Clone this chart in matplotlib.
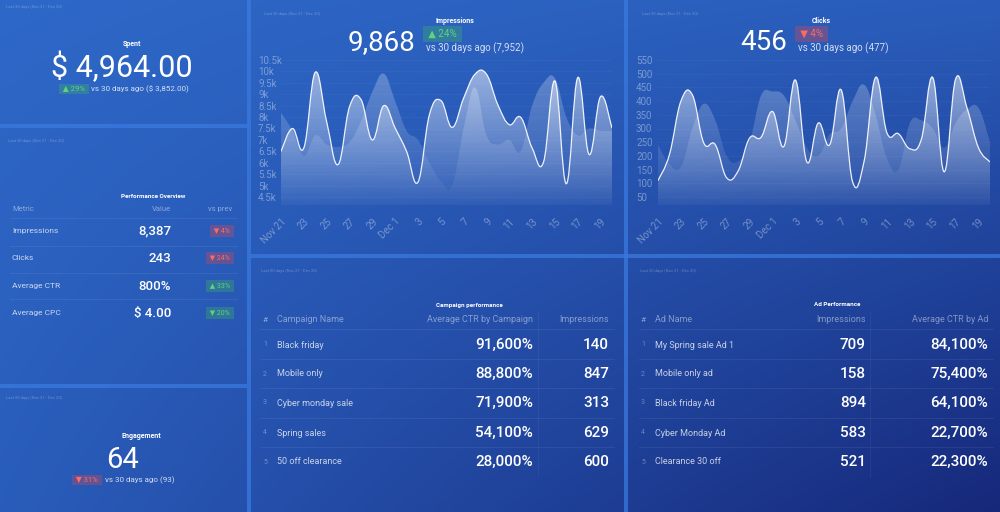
import numpy as np
import matplotlib
matplotlib.use('Agg')
import matplotlib.pyplot as plt
from matplotlib.path import Path
from matplotlib.patches import PathPatch, Rectangle
from matplotlib.lines import Line2D
from matplotlib.ticker import FuncFormatter, FixedLocator

plt.rcParams['font.family'] = ['Roboto', 'DejaVu Sans']

# ---- data ----
date_labels = ['Nov 21', '23', '25', '27', '29', 'Dec 1', '3', '5', '7', '9',
               '11', '13', '15', '17', '19']
impressions = [6500, 7500, 6650, 9960, 7800, 5920, 8450, 8780, 7000, 8500,
               7520, 6500, 5150, 8100, 8730, 7550, 8830, 9880, 9880, 8540,
               7670, 7990, 6650, 6030, 9580, 5080, 9730, 6360, 8900, 7520]
impressions_prev = [8200, 7400, 6300, 7200, 6800, 6700, 6900, 7800, 9100, 9900,
                    8700, 7400, 7000, 6000, 5200, 5000, 7500, 9300, 7200, 6800,
                    7000, 6500, 8500, 9500, 9700, 8000, 7200, 7500, 7400, 7400]
clicks = [110, 205, 400, 423, 247, 241, 120, 145, 265, 268,
          362, 235, 477, 178, 320, 241, 441, 105, 180, 486,
          284, 281, 226, 260, 486, 142, 481, 374, 229, 178]
clicks_prev = [240, 170, 160, 300, 390, 330, 200, 180, 250, 420,
               435, 420, 330, 230, 200, 280, 300, 400, 460, 350,
               190, 150, 320, 330, 300, 230, 320, 370, 375, 250]
impr_ticks = [4500, 5000, 5500, 6000, 6500, 7000, 7500, 8000, 8500, 9000,
              9500, 10000, 10500]
click_ticks = [50, 100, 150, 200, 250, 300, 350, 400, 450, 500, 550]

perf_metrics = ['Impressions', 'Clicks', 'Average CTR', 'Average CPC']
perf_values = ['8,387', '243', '800%', '$ 4.00']
perf_change = ['▼ 4%', '▼ 24%', '▲ 33%', '▼ 20%']
perf_good = [False, False, True, True]

campaign_names = ['Black friday', 'Mobile only', 'Cyber monday sale',
                  'Spring sales', '50 off clearance']
campaign_ctr = [91600, 88800, 71900, 54100, 28000]
campaign_impr = [140, 847, 313, 629, 600]

ad_names = ['My Spring sale Ad 1', 'Mobile only ad', 'Black friday Ad',
            'Cyber Monday Ad', 'Clearance 30 off']
ad_impr = [709, 158, 894, 583, 521]
ad_ctr = [84100, 75400, 64100, 22700, 22300]

W, H = 1000, 512
fig = plt.figure(figsize=(10, 5.12), dpi=100)


def fx(x):
    return x / W


def fy(y):
    return 1 - y / H


def txt(x, y, s, size, color='white', alpha=1.0, ha='left', va='center',
        weight='normal', **kw):
    return fig.text(fx(x), fy(y), s, fontsize=size, color=color, alpha=alpha,
                    ha=ha, va=va, fontweight=weight, **kw)


def badge(x, y, s, good, size, ha='left'):
    col = '#5fd37c' if good else '#ff6b5e'
    bg = (0.25, 0.75, 0.35, 0.30) if good else (0.95, 0.28, 0.28, 0.30)
    fig.text(fx(x), fy(y), ' ' + s + ' ', fontsize=size, color=col, ha=ha,
             va='center',
             bbox=dict(boxstyle='square,pad=0.3', fc=bg, ec='none'))


def hline(x0, x1, y, alpha=0.08):
    fig.add_artist(Line2D([fx(x0), fx(x1)], [fy(y), fy(y)],
                          transform=fig.transFigure, color='white',
                          alpha=alpha, lw=0.6))


def vline(x, y0, y1, alpha=0.06):
    fig.add_artist(Line2D([fx(x), fx(x)], [fy(y0), fy(y1)],
                          transform=fig.transFigure, color='white',
                          alpha=alpha, lw=0.6))


# ---- background gradient ----
bg_ax = fig.add_axes([0, 0, 1, 1], zorder=-10)
gx, gy = np.meshgrid(np.linspace(0, 1, 400), np.linspace(0, 1, 200))
t = 0.35 * (gx + gy) / 2 + 0.65 * gx * gy
c0 = np.array([46, 104, 200]) / 255
c1 = np.array([22, 40, 122]) / 255
img = c0[None, None, :] * (1 - t[..., None]) + c1[None, None, :] * t[..., None]
bg_ax.imshow(img, extent=[0, 1, 0, 1], aspect='auto', origin='upper')
bg_ax.axis('off')

# bright panel separators
sep = '#3a7ae0'
for (x0, y0, x1, y1) in [(0, 124, 247, 128), (0, 384, 247, 388),
                         (247, 0, 251, 512), (624, 0, 628, 512),
                         (251, 254, 1000, 258)]:
    fig.add_artist(Rectangle((fx(x0), fy(y1)), fx(x1 - x0), (y1 - y0) / H,
                             transform=fig.transFigure, color=sep, lw=0,
                             alpha=0.75))

# tiny date headers
for (x, y) in [(6, 7), (8, 141), (6, 398), (264, 14), (642, 14),
               (261, 271), (640, 271)]:
    txt(x, y, 'Last 30 days (Nov 21 - Dec 20)', 3, alpha=0.3)


# ---- smooth area charts ----
def smooth_path(xs, ys, k=0.2):
    pts = np.column_stack([xs, ys]).astype(float)
    n = len(pts)
    verts = [pts[0]]
    codes = [Path.MOVETO]
    for i in range(n - 1):
        p0 = pts[max(i - 1, 0)]
        p1 = pts[i]
        p2 = pts[i + 1]
        p3 = pts[min(i + 2, n - 1)]
        verts += [p1 + (p2 - p0) * k, p2 - (p3 - p1) * k, p2]
        codes += [Path.CURVE4] * 3
    return verts, codes


def area(ax, ys, base, top, a_top, a_bot, z, line=False):
    xs = np.arange(len(ys))
    verts, codes = smooth_path(xs, ys)
    av = verts + [(xs[-1], base), (xs[0], base), (xs[0], ys[0])]
    ac = codes + [Path.LINETO, Path.LINETO, Path.CLOSEPOLY]
    clip = PathPatch(Path(av, ac), transform=ax.transData, fc='none',
                     ec='none')
    ax.add_patch(clip)
    grad = np.ones((200, 1, 4))
    grad[:, 0, 3] = np.linspace(a_bot, a_top, 200)
    im = ax.imshow(grad, extent=[xs[0], xs[-1], base, top], origin='lower',
                   aspect='auto', interpolation='bilinear', zorder=z)
    im.set_clip_path(clip)
    if line:
        ax.add_patch(PathPatch(Path(verts, codes), fc='none', ec='white',
                               lw=0.9, alpha=0.9, zorder=z + 1))


def chart(left, right, cur, prev, ticks, lo, hi, fmt, ypad):
    bottom_px, top_px = 205, 60
    per_px = (hi - lo) / (197 - 60)
    ymin = lo - (bottom_px - 197) * per_px
    ax = fig.add_axes([fx(left), fy(bottom_px), (right - left) / W,
                       (bottom_px - top_px) / H])
    ax.set_facecolor('none')
    area(ax, prev, ymin, hi, 0.28, 0.02, 1)
    area(ax, cur, ymin, hi, 0.55, 0.03, 2, line=True)
    ax.set_xlim(0, len(cur) - 1)
    ax.set_ylim(ymin, hi)
    for s in ax.spines.values():
        s.set_visible(False)
    ax.yaxis.set_major_locator(FixedLocator(ticks))
    ax.yaxis.set_major_formatter(FuncFormatter(fmt))
    ax.set_xticks(np.arange(0, len(cur), 2))
    ax.set_xticklabels(date_labels)
    ax.tick_params(axis='y', length=0, pad=ypad, labelsize=7,
                   labelcolor=(1, 1, 1, 0.38))
    ax.tick_params(axis='x', length=0, pad=8, labelsize=7,
                   labelcolor=(1, 1, 1, 0.38))
    for lab in ax.get_yticklabels():
        lab.set_horizontalalignment('left')
    for lab in ax.get_xticklabels():
        lab.set_rotation(45)
        lab.set_horizontalalignment('right')
        lab.set_rotation_mode('anchor')
    ax.grid(axis='y', color='white', alpha=0.035, lw=0.6)
    return ax


chart(281, 612, impressions, impressions_prev, impr_ticks, 4500, 10500,
      lambda v, p: f'{v / 1000:g}k', 16.5)
chart(658, 990, clicks, clicks_prev, click_ticks, 50, 550,
      lambda v, p: f'{int(v)}', 15.8)

# chart headers
txt(436, 21, 'Impressions', 5, weight='bold')
txt(415, 50, '9,868', 20, ha='right', va='baseline')
badge(426, 34, '▲ 24%', True, 7)
txt(426, 48, 'vs 30 days ago (7,952)', 7, alpha=0.8)

txt(812, 21, 'Clicks', 5, weight='bold')
txt(787, 50, '456', 20, ha='right', va='baseline')
badge(798, 34, '▼ 4%', False, 7)
txt(798, 48, 'vs 30 days ago (477)', 7, alpha=0.8)

# ---- Spent ----
txt(123, 44, 'Spent', 5, weight='bold')
txt(122, 77, '$ 4,964.00', 22, ha='center', va='baseline')
badge(61, 89, '▲ 29%', True, 5.5)
txt(91, 89, 'vs 30 days ago ($ 3,852.00)', 5.8, alpha=0.8)

# ---- Engagement ----
txt(121, 436, 'Engagement', 5, weight='bold')
txt(122, 468, '64', 21, ha='center', va='baseline')
badge(74, 480, '▼ 31%', False, 5.5)
txt(105, 480, 'vs 30 days ago (93)', 5.8, alpha=0.8)

# ---- Performance overview ----
txt(121, 196, 'Performance Overview', 4.5, weight='bold')
txt(12, 209, 'Metric', 5.5, alpha=0.45)
txt(171, 209, 'Value', 5.5, alpha=0.45, ha='right')
txt(232, 209, 'vs prev', 5.5, alpha=0.45, ha='right')
row_y = [231, 258, 286, 313]
for y in [218, 246, 273, 299]:
    hline(10, 237, y)
for y, m, v, c, g in zip(row_y, perf_metrics, perf_values, perf_change,
                         perf_good):
    txt(12, y, m, 6, alpha=0.75)
    txt(171, y, v, 9.5, ha='right', weight='medium')
    badge(232, y, c, g, 5, ha='right')

# ---- tables ----
table_rows = [345, 374, 403, 433, 462]


def table(title, tx, x_num, x_name, x_c1, x_c2, x_sep, x0, x1, h1, h2,
          names, col1, col2):
    txt(tx, 305, title, 4.5, weight='bold')
    txt(x_num, 320, '#', 6, alpha=0.45)
    txt(x_name, 320, h1[0], 6.5, alpha=0.45)
    txt(x_c1, 320, h1[1], 6.5, alpha=0.45, ha='right')
    txt(x_c2, 320, h2, 6.5, alpha=0.45, ha='right')
    vline(x_sep, 312, 477)
    for y in [329, 359, 388, 418, 447]:
        hline(x0, x1, y)
    for i, (y, n, a, b) in enumerate(zip(table_rows, names, col1, col2)):
        txt(x_num, y, str(i + 1), 5, alpha=0.35)
        txt(x_name, y, n, 6.5, alpha=0.75)
        txt(x_c1, y, a, 11, ha='right', weight='medium')
        txt(x_c2, y, b, 11, ha='right', weight='medium')


table('Campaign performance', 436, 263, 277, 533, 609, 538, 260, 614,
      ('Campaign Name', 'Average CTR by Campaign'), 'Impressions',
      campaign_names, [f'{v:,}%' for v in campaign_ctr],
      [str(v) for v in campaign_impr])
table('Ad Performance', 814, 641, 655, 866, 988, 870, 639, 993,
      ('Ad Name', 'Impressions'), 'Average CTR by Ad',
      ad_names, [str(v) for v in ad_impr], [f'{v:,}%' for v in ad_ctr])

fig.savefig('out.png', dpi=100)
